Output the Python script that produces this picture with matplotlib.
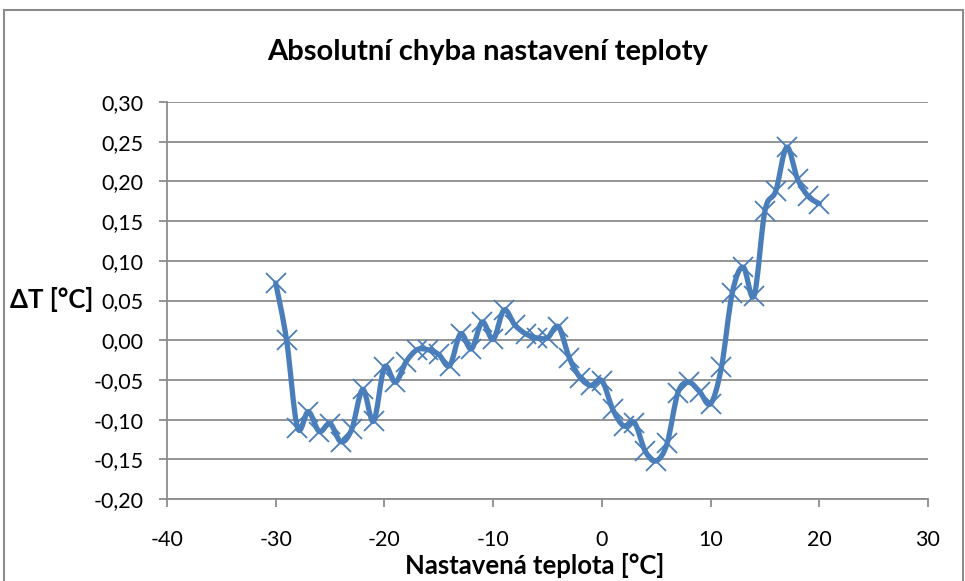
import numpy as np
import matplotlib
matplotlib.use("Agg")
import matplotlib.pyplot as plt
from matplotlib.path import Path
from matplotlib.patches import PathPatch, Rectangle

temps = list(range(-30, 21))
errors = [0.072, 0.000, -0.110, -0.090, -0.115, -0.105, -0.128, -0.112, -0.062, -0.102,
          -0.034, -0.053, -0.027, -0.012, -0.012, -0.018, -0.032, 0.008, -0.011, 0.023,
          0.001, 0.038, 0.019, 0.008, 0.003, 0.003, 0.017, -0.022, -0.047, -0.057,
          -0.051, -0.087, -0.108, -0.104, -0.140, -0.152, -0.130, -0.066, -0.053, -0.065,
          -0.080, -0.034, 0.060, 0.092, 0.056, 0.163, 0.188, 0.243, 0.203, 0.181, 0.172]
yticks = [-0.20, -0.15, -0.10, -0.05, 0.00, 0.05, 0.10, 0.15, 0.20, 0.25, 0.30]
xticks = [-40, -30, -20, -10, 0, 10, 20, 30]

FONT = ["Lato", "DejaVu Sans"]
BLUE = "#4A7EBB"
GRID = "#8C8C8C"

fig = plt.figure(figsize=(9.65, 5.81), dpi=100)
fig.patches.append(Rectangle((4/965, -0.05), 959/965, 1.05 - 10/581, transform=fig.transFigure,
                             fill=False, edgecolor="#8C8C8C", linewidth=1.5))
ax = fig.add_axes([167/965, 1 - 499/581, (928 - 167)/965, (499 - 102)/581])
ax.set_xlim(-40, 30)
ax.set_ylim(-0.20, 0.30)

# smooth (Catmull-Rom style) bezier through the points, like Excel's smoothed line
x = np.array(temps, dtype=float)
y = np.array(errors, dtype=float)
n = len(x)
verts = [(x[0], y[0])]
codes = [Path.MOVETO]
for i in range(n - 1):
    p0 = np.array([x[max(i - 1, 0)], y[max(i - 1, 0)]])
    p1 = np.array([x[i], y[i]])
    p2 = np.array([x[i + 1], y[i + 1]])
    p3 = np.array([x[min(i + 2, n - 1)], y[min(i + 2, n - 1)]])
    c1 = p1 + (p2 - p0) / 6
    c2 = p2 - (p3 - p1) / 6
    verts += [tuple(c1), tuple(c2), tuple(p2)]
    codes += [Path.CURVE4] * 3
ax.add_patch(PathPatch(Path(verts, codes), fill=False, edgecolor=BLUE, linewidth=3.8,
                       capstyle="round", joinstyle="round", zorder=3))
ax.plot(temps, errors, linestyle="none", marker="x", markersize=15, markeredgewidth=1.3,
        color=BLUE, zorder=4)

ax.set_yticks(yticks)
ax.set_xticks(xticks)
ax.set_yticklabels([f"{v:.2f}".replace(".", ",") for v in yticks], fontfamily=FONT, fontsize=15.5)
ax.set_xticklabels([str(v) for v in xticks], fontfamily=FONT, fontsize=15.5)
ax.grid(axis="y", color=GRID, linewidth=1.3)
ax.grid(axis="x", visible=False)
ax.set_axisbelow(True)
for s in ["top", "right"]:
    ax.spines[s].set_visible(False)
for s in ["left", "bottom"]:
    ax.spines[s].set_color(GRID)
    ax.spines[s].set_linewidth(1.3)
ax.tick_params(axis="both", direction="out", length=6, width=1.3, color=GRID,
               labelcolor="black")
ax.tick_params(axis="y", pad=11)
ax.tick_params(axis="x", pad=16)

fig.text(488/965, 1 - 52/581, "Absolutní chyba nastavení teploty", ha="center", va="center",
         fontfamily=FONT, fontsize=21, fontweight="bold")
fig.text(52/965, 1 - 300/581, "ΔT [°C]", ha="center", va="center",
         fontfamily=FONT, fontsize=18.5, fontweight="bold")
fig.text(535/965, 1 - 574/581, "Nastavená teplota [°C]", ha="center", va="baseline",
         fontfamily=FONT, fontsize=18.5, fontweight="bold")

fig.savefig("out.png", dpi=100)
